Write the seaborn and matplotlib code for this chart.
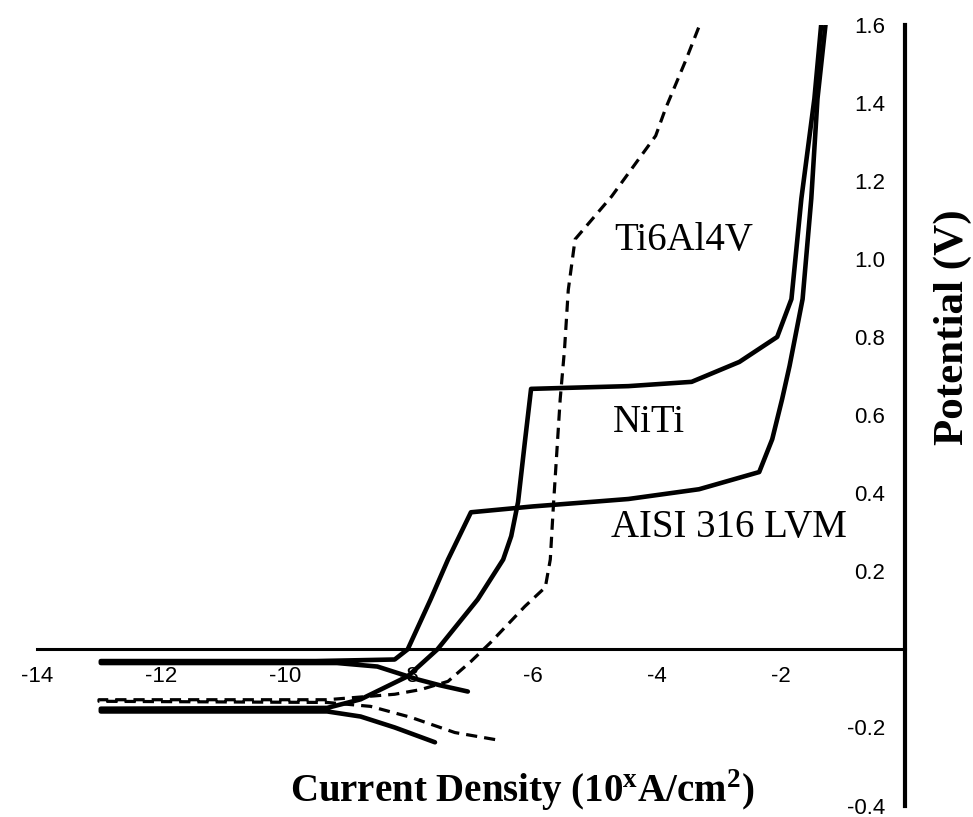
import matplotlib
matplotlib.use("Agg")
import matplotlib.pyplot as plt
import seaborn as sns
import pandas as pd

# AISI 316 LVM (solid): cathodic tail -> nose -> anodic branch
aisi_x = [-7.05, -7.5, -7.86, -8.51, -9.16, -12.97, -12.97, -9.5, -8.23, -8.02,
          -7.65, -7.37, -7.0, -6.0, -4.94, -4.46, -3.32, -2.35, -2.14, -1.98,
          -1.86, -1.65, -1.51, -1.41, -1.28]
aisi_y = [-0.108, -0.092, -0.077, -0.044, -0.035, -0.035, -0.030, -0.030, -0.026, 0.0,
          0.128, 0.23, 0.351, 0.366, 0.379, 0.385, 0.41, 0.454, 0.538, 0.641,
          0.726, 0.897, 1.154, 1.41, 1.60]

# NiTi (solid)
niti_x = [-7.58, -8.23, -8.78, -9.32, -12.97, -12.97, -9.32, -8.78, -8.02, -7.54,
          -6.89, -6.48, -6.35, -6.24, -6.13, -6.03, -4.46, -3.44, -2.67, -2.06,
          -1.83, -1.67, -1.46, -1.35]
niti_y = [-0.238, -0.200, -0.172, -0.159, -0.159, -0.152, -0.150, -0.128, -0.069, 0.0,
          0.128, 0.23, 0.29, 0.377, 0.531, 0.667, 0.674, 0.685, 0.736, 0.80,
          0.897, 1.154, 1.41, 1.60]

# Ti6Al4V (dashed)
ti_x = [-6.61, -7.26, -7.97, -8.62, -9.32, -13.0, -13.0, -9.32, -8.23, -7.81,
        -7.37, -7.0, -6.68, -6.13, -5.80, -5.72, -5.67, -5.56, -5.49, -5.43,
        -5.32, -4.73, -4.02, -3.86, -3.53, -3.32]
ti_y = [-0.231, -0.213, -0.174, -0.146, -0.136, -0.133, -0.129, -0.129, -0.115, -0.103,
        -0.082, -0.031, 0.018, 0.11, 0.159, 0.23, 0.367, 0.641, 0.769, 0.92,
        1.05, 1.16, 1.315, 1.385, 1.51, 1.595]

x_ticks = [-14, -12, -10, -8, -6, -4, -2]
y_ticks = [-0.4, -0.2, 0.2, 0.4, 0.6, 0.8, 1.0, 1.2, 1.4, 1.6]

sns.set_style("white")
plt.rcParams["font.family"] = ["Liberation Sans", "DejaVu Sans"]
plt.rcParams["text.color"] = "black"
plt.rcParams["xtick.color"] = "black"
plt.rcParams["ytick.color"] = "black"

fig = plt.figure(figsize=(9.73, 8.17), dpi=100)
ax = fig.add_axes([0.038, 0.014, 0.892, 0.956])

curves = [("AISI 316 LVM", aisi_x, aisi_y, "-", 3.3),
          ("NiTi", niti_x, niti_y, "-", 3.3),
          ("Ti6Al4V", ti_x, ti_y, (0, (3.5, 2.2)), 2.3)]
for name, xs, ys, ls, lw in curves:
    df = pd.DataFrame({"x": xs, "y": ys})
    sns.lineplot(data=df, x="x", y="y", sort=False, estimator=None, ax=ax,
                 color="black", linestyle=ls, linewidth=lw)

ax.set_xlim(-14, 0)
ax.set_ylim(-0.4, 1.6)

ax.spines["top"].set_visible(False)
ax.spines["right"].set_visible(False)
ax.spines["left"].set_position(("data", 0))
ax.spines["bottom"].set_position(("data", 0))
ax.spines["left"].set_linewidth(3.0)
ax.spines["bottom"].set_linewidth(2.2)
ax.spines["left"].set_color("black")
ax.spines["bottom"].set_color("black")

ax.set_xticks(x_ticks)
ax.set_xticklabels([str(t) for t in x_ticks])
ax.set_yticks(y_ticks)
ax.set_yticklabels([f"{t:.1f}" for t in y_ticks])
ax.tick_params(axis="x", direction="in", length=4, width=1.5, pad=12, labelsize=16)
ax.tick_params(axis="y", direction="out", length=4, width=1.5, pad=10, labelsize=16)
ax.set_xlabel("")
ax.set_ylabel("")

serif = ["Liberation Serif", "DejaVu Serif"]
ax.text(-3.57, 1.046, "Ti6Al4V", family=serif, fontsize=28, ha="center", va="center")
ax.text(-4.13, 0.58, "NiTi", family=serif, fontsize=28, ha="center", va="center")
ax.text(-2.84, 0.313, "AISI 316 LVM", family=serif, fontsize=28, ha="center", va="center")

fig.text(0.537, 0.033, r"Current Density (10$^{\mathregular{x}}$A/cm$^{\mathregular{2}}$)",
         family=serif, fontweight="bold", fontsize=28, ha="center", va="center")
fig.text(0.979, 0.6, "Potential (V)", family=serif, fontweight="bold",
         fontsize=31, rotation=90, ha="center", va="center")

fig.savefig("out.png", dpi=100)
